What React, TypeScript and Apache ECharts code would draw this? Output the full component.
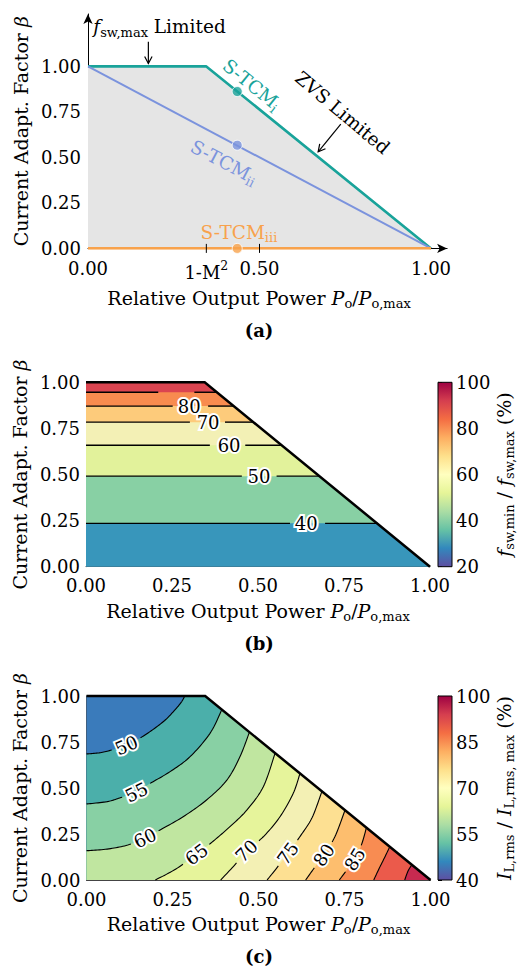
import React, { useEffect, useRef } from "react";
import * as echarts from "echarts";

const FONT = '"DejaVu Serif", serif';
const FS = 18;
const FT = 19;
const FS_SUB = 13;

// ---------------- data ----------------
const XM = 0.345; // 1 - M^2 : corner of the operating region
const A_XMAX = 1.047;
const A_YMAX = 1.288;
const A_X_TICKS = [0, XM, 0.5, 1];
const A_Y_TICKS = [0, 0.25, 0.5, 0.75, 1];
const A_TICK_MARKS = [XM, 0.5];
const STCM_I = [[0, 1], [XM, 1], [1, 0]];
const STCM_II = [[0, 1], [1, 0]];
const STCM_III = [[0, 0], [1, 0]];
const OP_X = 0.435;
const OP_BETA = [0.862, 0.567, 0];

// (b) f_sw,min / f_sw,max contours (horizontal)
const B_LEVELS = [40, 50, 60, 70, 80, 90];
const B_LEVEL_BETA = [0.235, 0.491, 0.659, 0.784, 0.871, 0.946];
const B_LINE_PIECES = [
  [[0, 0.593], [0.695, 0.847]],
  [[0, 0.453], [0.554, 0.68]],
  [[0, 0.36], [0.463, 0.57]],
  [[0, 0.302], [0.404, 0.488]],
  [[0, 0.252], [0.355, 0.43]],
  [[0, 0.21], [0.315, 0.381]],
];
const B_LABEL_LEVELS = [40, 50, 60, 70, 80];
const B_LABEL_X = [0.64, 0.503, 0.416, 0.355, 0.3];
const B_CB_TICKS = [20, 40, 60, 80, 100];

// (c) I_L,rms / I_L,rms,max contours
const C_LEVELS = [50, 55, 60, 65, 70, 75, 80, 85, 90, 95];
const C_50 = [[0, 0.685], [0.04, 0.692], [0.08, 0.71], [0.12, 0.735], [0.17, 0.788], [0.223, 0.86], [0.255, 0.92], [0.275, 0.965], [0.286, 1.0]];
const C_55 = [[0, 0.413], [0.06, 0.426], [0.1, 0.448], [0.145, 0.478], [0.185, 0.525], [0.243, 0.589], [0.301, 0.67], [0.359, 0.797], [0.393, 0.924]];
const C_60 = [[0, 0.159], [0.06, 0.168], [0.12, 0.19], [0.17, 0.228], [0.214, 0.272], [0.281, 0.344], [0.349, 0.435], [0.408, 0.543], [0.446, 0.67], [0.473, 0.8]];
const C_65 = [[0.2, 0], [0.26, 0.06], [0.32, 0.14], [0.369, 0.212], [0.417, 0.29], [0.466, 0.38], [0.514, 0.507], [0.548, 0.688]];
const C_70 = [[0.39, 0], [0.43, 0.08], [0.465, 0.158], [0.514, 0.235], [0.5625, 0.344], [0.601, 0.471], [0.621, 0.582]];
const C_75 = [[0.525, 0], [0.555, 0.07], [0.588, 0.152], [0.622, 0.24], [0.656, 0.34], [0.685, 0.485]];
const C_80 = [[0.637, 0], [0.66, 0.06], [0.69, 0.136], [0.722, 0.235], [0.752, 0.382]];
const C_85 = [[0.735, 0], [0.755, 0.05], [0.782, 0.118], [0.8, 0.195], [0.814, 0.286]];
const C_90 = [[0.835, 0], [0.85, 0.06], [0.866, 0.12], [0.882, 0.182]];
const C_95 = [[0.925, 0], [0.935, 0.05], [0.946, 0.083]];
const C_CONTOURS = [C_50, C_55, C_60, C_65, C_70, C_75, C_80, C_85, C_90, C_95];
const C_LABEL_LEVELS = [50, 55, 60, 65, 70, 75, 80, 85];
const C_LABEL_POS = [[0.115, 0.734], [0.144, 0.474], [0.171, 0.23], [0.32, 0.145], [0.466, 0.158], [0.583, 0.152], [0.687, 0.136], [0.776, 0.118]];
const C_CB_TICKS = [40, 55, 70, 85, 100];

// ---------------- styles ----------------
const TEAL = "#19a39a";
const BLUE = "#7b93dd";
const ORANGE = "#f8a24c";
const GRAY = "#e5e5e5";
const SPECTRAL_R = ["#5e4fa2", "#3288bd", "#66c2a5", "#abdda4", "#e6f598", "#ffffbf", "#fee08b", "#fdae61", "#f46d43", "#d53e4f", "#9e0142"];
const B_BASE = "#3896bb";
const B_COLORS = ["#88d0a4", "#e2f29b", "#f3f0b5", "#fdcb7b", "#f88b4f", "#db4450"];
const C_BASE = "#3a7bbb";
const C_COLORS = ["#4bafaa", "#88d0a4", "#c0e6a0", "#e6f49b", "#f3f0b4", "#fde092", "#fdbe6e", "#f88c52", "#eb5a4b", "#c82a50"];

const RICH_TICK = {
  n: { fontFamily: FONT, fontSize: FS, color: "#000" },
  u: { fontFamily: FONT, fontSize: 12.5, color: "#000", padding: [0, 0, 13, 0] },
};
const RICH = {
  n: { fontFamily: FONT, fontSize: FT, color: "#000" },
  i: { fontFamily: FONT, fontSize: FT, fontStyle: "italic", color: "#000" },
  s: { fontFamily: FONT, fontSize: FS_SUB, color: "#000", padding: [11, 0, 0, 0] },
};
const X_NAME = "{n|Relative Output Power }{i|P}{s|o}{n|/}{i|P}{s|o,max}";
const Y_NAME = "{n|Current Adapt. Factor }{i|β}";

// ---------------- geometry helpers ----------------
const BND = [[0, 0], [1, 0], [XM, 1], [0, 1]];
function edgeParam(p: number[]) {
  let best = 0, bestD = Infinity;
  for (let i = 0; i < 4; i++) {
    const a = BND[i], b = BND[(i + 1) % 4];
    const dx = b[0] - a[0], dy = b[1] - a[1];
    let t = ((p[0] - a[0]) * dx + (p[1] - a[1]) * dy) / (dx * dx + dy * dy);
    t = Math.max(0, Math.min(1, t));
    const d = Math.hypot(p[0] - a[0] - t * dx, p[1] - a[1] - t * dy);
    if (d < bestD - 1e-9) { bestD = d; best = i + t; }
  }
  return best;
}
const mod4 = (v: number) => ((v % 4) + 4) % 4;
function closingCorners(start: number[], end: number[], high: number) {
  const tS = edgeParam(start), tE = edgeParam(end);
  const fwdLen = mod4(tS - tE);
  const dHigh = mod4(high - tE);
  const fwd = dHigh > 0 && dHigh < fwdLen;
  const len = fwd ? fwdLen : mod4(tE - tS);
  return [0, 1, 2, 3]
    .map((k) => ({ k, d: fwd ? mod4(k - tE) : mod4(tE - k) }))
    .filter((o) => o.d > 1e-9 && o.d < len - 1e-9)
    .sort((a, b) => a.d - b.d)
    .map((o) => BND[o.k]);
}
function smooth(pts: number[][], n: number) {
  if (pts.length < 3) return pts;
  const out = [pts[0]];
  for (let i = 0; i < pts.length - 1; i++) {
    const p0 = pts[Math.max(0, i - 1)], p1 = pts[i], p2 = pts[i + 1], p3 = pts[Math.min(pts.length - 1, i + 2)];
    for (let j = 1; j <= n; j++) {
      const t = j / n, t2 = t * t, t3 = t2 * t;
      const f = (q: number) =>
        0.5 * (2 * p1[q] + (-p0[q] + p2[q]) * t + (2 * p0[q] - 5 * p1[q] + 4 * p2[q] - p3[q]) * t2 + (-p0[q] + 3 * p1[q] - 3 * p2[q] + p3[q]) * t3);
      out.push([f(0), f(1)]);
    }
  }
  return out;
}
function clipAround(pts: number[][], centers: number[][], r: number) {
  const lines: number[][][] = [];
  let cur: number[][] = [];
  for (const p of pts) {
    const inside = centers.some((c) => Math.hypot(p[0] - c[0], p[1] - c[1]) < r);
    if (inside) { if (cur.length > 1) lines.push(cur); cur = []; } else cur.push(p);
  }
  if (cur.length > 1) lines.push(cur);
  return lines;
}
function haloText(txt: string, p: number[], rot: number) {
  const base = { text: txt, x: 0, y: 0, fontFamily: FONT, fontSize: FS, align: "center", verticalAlign: "middle" };
  return [
    { type: "text", x: p[0], y: p[1], rotation: rot, style: { ...base, fill: "#fff", stroke: "#fff", lineWidth: 4 } },
    { type: "text", x: p[0], y: p[1], rotation: rot, style: { ...base, fill: "#000" } },
  ];
}
function richText(txt: string, p: number[], rot: number, color: string, align = "center") {
  const size = 18.5;
  const tok = (extra: any) => ({ fontFamily: FONT, fill: color, ...extra });
  return {
    type: "text", x: p[0], y: p[1], rotation: rot,
    style: {
      text: txt, x: 0, y: 0, align, verticalAlign: "middle", fill: color, fontFamily: FONT, fontSize: size,
      rich: {
        n: tok({ fontSize: size }),
        i: tok({ fontSize: size, fontStyle: "italic" }),
        s: tok({ fontSize: 13, padding: [11, 0, 0, 0] }),
      },
    },
  };
}
function arrow(a: number[], b: number[]) {
  const dx = b[0] - a[0], dy = b[1] - a[1];
  const L = Math.hypot(dx, dy), ux = dx / L, uy = dy / L;
  const h = 7, s = Math.tan((28 * Math.PI) / 180);
  const l = [b[0] - h * ux + h * s * uy, b[1] - h * uy - h * s * ux];
  const r = [b[0] - h * ux - h * s * uy, b[1] - h * uy + h * s * ux];
  return [
    { type: "line", shape: { x1: a[0], y1: a[1], x2: b[0], y2: b[1] }, style: { stroke: "#000", lineWidth: 1.2 } },
    { type: "polyline", shape: { points: [l, b, r] }, style: { stroke: "#000", lineWidth: 1.2, fill: "none" } },
  ];
}

// annotations for (a)
const A_ARROWS = [
  { from: [0.737, 0.683], to: [0.671, 0.531] },
  { from: [0.176, 1.135], to: [0.176, 1.016] },
];

function renderA(_p: any, api: any) {
  const c = (p: number[]) => api.coord(p);
  const ch: any[] = [];
  A_TICK_MARKS.forEach((v) => {
    const p = c([v, 0]);
    ch.push({ type: "line", shape: { x1: p[0], y1: p[1] - 4.5, x2: p[0], y2: p[1] + 4.5 }, style: { stroke: "#000", lineWidth: 1 } });
  });
  A_ARROWS.forEach((a) => ch.push(...arrow(c(a.from), c(a.to))));
  const angOf = (p: number[], q: number[]) => {
    const a = c(p), b = c(q);
    return Math.atan2(-(b[1] - a[1]), b[0] - a[0]);
  };
  ch.push(richText("{n|S-TCM}{s|i}", c([0.478, 0.9]), angOf([XM, 1], [1, 0]), TEAL));
  ch.push(richText("{n|S-TCM}{s|ii}", c([0.397, 0.475]), angOf([0, 1], [1, 0]), BLUE));
  ch.push(richText("{n|S-TCM}{s|iii}", c([0.44, 0.088]), 0, ORANGE));
  ch.push(richText("{n|ZVS Limited}", c([0.742, 0.746]), (-40 * Math.PI) / 180, "#000"));
  ch.push(richText("{i|f}{s|sw,max}{n| Limited}", c([0.0155, 1.218]), 0, "#000", "left"));
  return { type: "group", children: ch };
}

function boundaryLine(c: (p: number[]) => number[]) {
  return { type: "polyline", shape: { points: [[0, 1], [XM, 1], [1, 0]].map(c) }, style: { stroke: "#000", lineWidth: 2.5, fill: "none", lineJoin: "miter" } };
}

function renderB(_p: any, api: any) {
  const c = (p: number[]) => api.coord(p);
  const ch: any[] = [];
  ch.push({ type: "polygon", shape: { points: BND.map(c) }, style: { fill: B_BASE } });
  B_LEVEL_BETA.forEach((b, k) => {
    const line = [[0, b], [1 - (1 - XM) * b, b]];
    const pts = line.map(c).concat(closingCorners(line[0], line[1], 3).map(c));
    ch.push({ type: "polygon", shape: { points: pts }, style: { fill: B_COLORS[k] } });
  });
  B_LINE_PIECES.forEach((pieces, k) => {
    pieces.forEach(([x0, x1]) => {
      const a = c([x0, B_LEVEL_BETA[k]]), b = c([x1, B_LEVEL_BETA[k]]);
      ch.push({ type: "line", shape: { x1: a[0], y1: a[1], x2: b[0], y2: b[1] }, style: { stroke: "#000", lineWidth: 1.4 } });
    });
  });
  ch.push(boundaryLine(c));
  B_LABEL_LEVELS.forEach((lev, j) => {
    const k = B_LEVELS.indexOf(lev);
    ch.push(...haloText(String(lev), c([B_LABEL_X[j], B_LEVEL_BETA[k]]), 0));
  });
  return { type: "group", children: ch };
}

function renderC(_p: any, api: any) {
  const c = (p: number[]) => api.coord(p);
  const ch: any[] = [];
  ch.push({ type: "polygon", shape: { points: BND.map(c) }, style: { fill: C_BASE } });
  const paths = C_CONTOURS.map((line) => smooth(line.map(c), 12));
  C_CONTOURS.forEach((line, k) => {
    const corners = closingCorners(line[0], line[line.length - 1], 1).map(c);
    ch.push({ type: "polygon", shape: { points: paths[k].concat(corners) }, style: { fill: C_COLORS[k] } });
  });
  const labels = C_LABEL_LEVELS.map((lev, j) => {
    const k = C_LEVELS.indexOf(lev);
    const target = c(C_LABEL_POS[j]);
    const path = paths[k];
    let bi = 0, bd = Infinity;
    path.forEach((p, i) => {
      const d = Math.hypot(p[0] - target[0], p[1] - target[1]);
      if (d < bd) { bd = d; bi = i; }
    });
    const a = path[Math.max(0, bi - 3)], b = path[Math.min(path.length - 1, bi + 3)];
    let ang = Math.atan2(-(b[1] - a[1]), b[0] - a[0]);
    if (ang > Math.PI / 2) ang -= Math.PI;
    if (ang < -Math.PI / 2) ang += Math.PI;
    return { k, p: path[bi], ang, text: String(lev) };
  });
  paths.forEach((path, k) => {
    const centers = labels.filter((l) => l.k === k).map((l) => l.p);
    clipAround(path, centers, 15).forEach((seg) =>
      ch.push({ type: "polyline", shape: { points: seg }, style: { stroke: "#000", lineWidth: 1.1, fill: "none" } })
    );
  });
  ch.push(boundaryLine(c));
  labels.forEach((l) => ch.push(...haloText(l.text, l.p, l.ang)));
  return { type: "group", children: ch };
}

function colorbar(min: number, max: number) {
  return (_p: any, api: any) => {
    const p0 = api.coord([0, max]), p1 = api.coord([1, min]);
    const grad = new echarts.graphic.LinearGradient(0, 1, 0, 0, SPECTRAL_R.map((col, i) => ({ offset: i / (SPECTRAL_R.length - 1), color: col })));
    return {
      type: "rect",
      shape: { x: p0[0], y: p0[1], width: p1[0] - p0[0], height: p1[1] - p0[1] },
      style: { fill: grad, stroke: "#000", lineWidth: 1 },
    };
  };
}

const tickLabel = { color: "#000", fontFamily: FONT, fontSize: FS };

function plotXAxis(gridIndex: number, gap: number) {
  return {
    gridIndex, type: "value", min: 0, max: 1, interval: 0.25,
    axisLine: { show: true, lineStyle: { color: "#444", width: 1 } },
    axisTick: { show: false }, splitLine: { show: false },
    axisLabel: { ...tickLabel, margin: 10, showMinLabel: true, showMaxLabel: true, formatter: (v: number) => v.toFixed(2) },
    name: X_NAME, nameLocation: "middle", nameGap: gap, nameTextStyle: { rich: RICH },
  };
}
function plotYAxis(gridIndex: number) {
  return {
    gridIndex, type: "value", min: 0, max: 1, interval: 0.25,
    axisLine: { show: true, lineStyle: { color: "#444", width: 1 } },
    axisTick: { show: false }, splitLine: { show: false },
    axisLabel: { ...tickLabel, margin: 6, showMinLabel: true, showMaxLabel: true, formatter: (v: number) => v.toFixed(2) },
    name: Y_NAME, nameLocation: "middle", nameGap: 53, nameTextStyle: { rich: RICH },
  };
}
function cbYAxis(gridIndex: number, min: number, max: number, ticks: number[], name: string) {
  return {
    gridIndex, type: "value", position: "right", min, max,
    axisLine: { show: true, lineStyle: { color: "#000", width: 1 } },
    axisTick: { show: true, length: 4, customValues: ticks, lineStyle: { color: "#000" } },
    splitLine: { show: false },
    axisLabel: { ...tickLabel, margin: 4, customValues: ticks },
    name, nameLocation: "middle", nameRotate: 90, nameGap: 40, nameTextStyle: { rich: RICH },
  };
}

const caption = (text: string, y: number) => ({
  type: "text", x: 259, y,
  style: { text, align: "center", verticalAlign: "middle", fontFamily: FONT, fontSize: FS, fontWeight: "bold", fill: "#000" },
});

function buildOption() {
  const aTop = 248.4 - 182 * A_YMAX;
  return {
    animation: false,
    backgroundColor: "#fff",
    grid: [
      { left: 88, top: aTop, width: 343 * A_XMAX, height: 182 * A_YMAX, outerBoundsMode: "none" },
      { left: 86, top: 382.3, width: 344, height: 184.4, outerBoundsMode: "none" },
      { left: 86.5, top: 696, width: 344, height: 184, outerBoundsMode: "none" },
      { left: 438, top: 382.3, width: 14, height: 184.4, outerBoundsMode: "none" },
      { left: 438, top: 696, width: 14, height: 184, outerBoundsMode: "none" },
    ],
    xAxis: [
      {
        gridIndex: 0, type: "value", min: 0, max: A_XMAX,
        axisLine: { show: true, symbol: ["none", "arrow"], symbolSize: [7, 10], lineStyle: { color: "#000", width: 1 } },
        axisTick: { show: false }, splitLine: { show: false },
        axisLabel: {
          ...tickLabel, margin: 11, customValues: A_X_TICKS, rich: RICH_TICK,
          formatter: (v: number) => (Math.abs(v - XM) < 1e-6 ? "{n|1-M}{u|2}" : "{n|" + v.toFixed(2) + "}"),
        },
        name: X_NAME, nameLocation: "middle", nameGap: 38, nameTextStyle: { rich: RICH, padding: [0, 17, 0, 0] },
      },
      plotXAxis(1, 32),
      plotXAxis(2, 32),
      { gridIndex: 3, type: "value", min: 0, max: 1, show: false },
      { gridIndex: 4, type: "value", min: 0, max: 1, show: false },
    ],
    yAxis: [
      {
        gridIndex: 0, type: "value", min: 0, max: A_YMAX,
        axisLine: { show: true, symbol: ["none", "arrow"], symbolSize: [7, 10], lineStyle: { color: "#000", width: 1 } },
        axisTick: { show: false }, splitLine: { show: false },
        axisLabel: { ...tickLabel, margin: 7, customValues: A_Y_TICKS, formatter: (v: number) => v.toFixed(2) },
        name: Y_NAME, nameLocation: "middle", nameGap: 55, nameTextStyle: { rich: RICH },
      },
      plotYAxis(1),
      plotYAxis(2),
      cbYAxis(3, 20, 100, B_CB_TICKS, "{i|f}{s|sw,min}{n| / }{i|f}{s|sw,max}{n| (%)}"),
      cbYAxis(4, 40, 100, C_CB_TICKS, "{i|I}{s|L,rms}{n| / }{i|I}{s|L,rms, max}{n| (%)}"),
    ],
    graphic: [caption("(a)", 330), caption("(b)", 643), caption("(c)", 956)],
    series: [
      {
        type: "line", xAxisIndex: 0, yAxisIndex: 0, data: STCM_I, showSymbol: false, z: 2,
        lineStyle: { color: TEAL, width: 2.6 }, areaStyle: { color: GRAY, opacity: 1 },
      },
      { type: "line", xAxisIndex: 0, yAxisIndex: 0, data: STCM_II, showSymbol: false, z: 3, lineStyle: { color: BLUE, width: 2 } },
      { type: "line", xAxisIndex: 0, yAxisIndex: 0, data: STCM_III, showSymbol: false, z: 3, lineStyle: { color: ORANGE, width: 2.6 } },
      {
        type: "scatter", xAxisIndex: 0, yAxisIndex: 0, z: 4, symbolSize: 10,
        data: OP_BETA.map((b, i) => ({ value: [OP_X, b], itemStyle: { color: [TEAL, BLUE, ORANGE][i], borderColor: "#fff", borderWidth: 1 } })),
      },
      { type: "custom", xAxisIndex: 0, yAxisIndex: 0, z: 5, clip: false, data: [[0.5, 0.5]], renderItem: renderA },
      { type: "custom", xAxisIndex: 1, yAxisIndex: 1, z: 2, clip: false, data: [[0.5, 0.5]], renderItem: renderB },
      { type: "custom", xAxisIndex: 2, yAxisIndex: 2, z: 2, clip: false, data: [[0.5, 0.5]], renderItem: renderC },
      { type: "custom", xAxisIndex: 3, yAxisIndex: 3, z: 2, clip: false, data: [[0.5, 60]], renderItem: colorbar(20, 100) },
      { type: "custom", xAxisIndex: 4, yAxisIndex: 4, z: 2, clip: false, data: [[0.5, 70]], renderItem: colorbar(40, 100) },
    ],
  };
}

export default function App() {
  const ref = useRef<HTMLDivElement>(null);
  useEffect(() => {
    const chart = echarts.init(ref.current as HTMLDivElement, null, { renderer: "svg" });
    chart.setOption(buildOption() as any);
    return () => chart.dispose();
  }, []);
  return <div ref={ref} style={{ position: "fixed", left: 0, top: 0, width: 530, height: 969, background: "#fff" }} />;
}
